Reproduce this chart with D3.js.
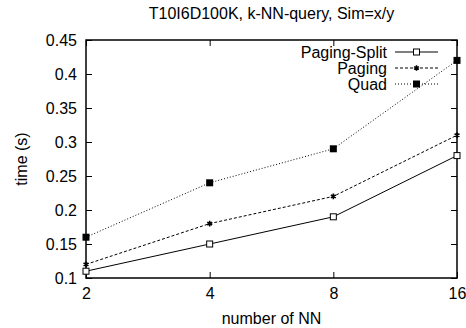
<!DOCTYPE html>
<html>
<head>
<meta charset="utf-8">
<script src="https://cdn.jsdelivr.net/npm/d3@7"></script>
<style>
  html, body { margin: 0; padding: 0; background: #fff; }
  svg { display: block; font-family: "Liberation Sans", Arial, sans-serif; }
</style>
</head>
<body>
<svg id="chart" width="466" height="328"></svg>
<script>
// Query time per number of nearest neighbours (T10I6D100K, Sim=x/y)
const nnValues = [2, 4, 8, 16];
const pagingSplit = [0.11, 0.15, 0.19, 0.28];
const paging = [0.12, 0.18, 0.22, 0.31];
const quad = [0.16, 0.24, 0.29, 0.42];
const seriesNames = ["Paging-Split", "Paging", "Quad"];
const yTicks = [0.1, 0.15, 0.2, 0.25, 0.3, 0.35, 0.4, 0.45];
const yTickLabels = ["0.1", "0.15", "0.2", "0.25", "0.3", "0.35", "0.4", "0.45"];
const xTickLabels = ["2", "4", "8", "16"];

const svg = d3.select("#chart");
const plotLeft = 86, plotRight = 457, plotTop = 40, plotBottom = 278;

const x = d3.scaleLog().base(2).domain([2, 16]).range([plotLeft, plotRight]);
const y = d3.scaleLinear().domain([0.1, 0.45]).range([plotBottom, plotTop]);

const series = [
  { name: seriesNames[0], values: pagingSplit, dash: null, marker: "openSquare" },
  { name: seriesNames[1], values: paging, dash: "3,2", marker: "star" },
  { name: seriesNames[2], values: quad, dash: "1,2", marker: "filledSquare" }
];

// axes with inward ticks, mirrored on the opposite sides
const fontSize = 16;
const yAxis = d3.axisLeft(y).tickValues(yTicks)
  .tickFormat((d, i) => yTickLabels[i]).tickSizeInner(-6).tickSizeOuter(0).tickPadding(9);
const xAxis = d3.axisBottom(x).tickValues(nnValues)
  .tickFormat((d, i) => xTickLabels[i]).tickSizeInner(-6).tickSizeOuter(0).tickPadding(10);
const yAxisR = d3.axisRight(y).tickValues(yTicks).tickFormat("").tickSizeInner(-6).tickSizeOuter(0);
const xAxisT = d3.axisTop(x).tickValues(nnValues).tickFormat("").tickSizeInner(-6).tickSizeOuter(0);

function styleAxis(g) {
  g.select(".domain").remove();
  g.selectAll("line").attr("stroke", "#000").attr("stroke-width", 1);
  g.selectAll("text").attr("fill", "#000").attr("font-size", fontSize)
    .attr("font-family", "Liberation Sans, Arial, sans-serif");
}

svg.append("g").attr("transform", `translate(${plotLeft},0)`).call(yAxis).call(styleAxis);
svg.append("g").attr("transform", `translate(0,${plotBottom})`).call(xAxis).call(styleAxis);
svg.append("g").attr("transform", `translate(${plotRight},0)`).call(yAxisR).call(styleAxis);
svg.append("g").attr("transform", `translate(0,${plotTop})`).call(xAxisT).call(styleAxis);

// plot frame
svg.append("rect")
  .attr("x", plotLeft).attr("y", plotTop)
  .attr("width", plotRight - plotLeft).attr("height", plotBottom - plotTop)
  .attr("fill", "none").attr("stroke", "#000").attr("stroke-width", 1.5);

function drawMarker(g, type, cx, cy) {
  if (type === "openSquare") {
    g.append("rect").attr("x", cx - 3).attr("y", cy - 3).attr("width", 6).attr("height", 6)
      .attr("fill", "#fff").attr("stroke", "#000").attr("stroke-width", 1);
  } else if (type === "filledSquare") {
    g.append("rect").attr("x", cx - 3.5).attr("y", cy - 3.5).attr("width", 7).attr("height", 7)
      .attr("fill", "#000");
  } else {
    g.append("path").attr("d", d3.symbol(d3.symbolAsterisk, 22)())
      .attr("transform", `translate(${cx},${cy})`)
      .attr("fill", "none").attr("stroke", "#000").attr("stroke-width", 1.6);
  }
}

const line = d3.line().x((d, i) => x(nnValues[i])).y(d => y(d));

series.forEach(s => {
  const g = svg.append("g");
  g.append("path").datum(s.values).attr("d", line)
    .attr("fill", "none").attr("stroke", "#000").attr("stroke-width", 1)
    .attr("stroke-dasharray", s.dash);
  s.values.forEach((v, i) => drawMarker(g, s.marker, x(nnValues[i]), y(v)));
});

// legend
const legend = svg.append("g");
series.forEach((s, i) => {
  const ly = 52 + i * 16;
  legend.append("text").attr("x", 387).attr("y", ly).attr("dy", "0.35em")
    .attr("text-anchor", "end").attr("font-size", fontSize).attr("fill", "#000").text(s.name);
  legend.append("line").attr("x1", 395).attr("x2", 438).attr("y1", ly).attr("y2", ly)
    .attr("stroke", "#000").attr("stroke-width", 1).attr("stroke-dasharray", s.dash);
  drawMarker(legend, s.marker, 416.5, ly);
});

// titles
svg.append("text").attr("x", (plotLeft + plotRight) / 2).attr("y", 19)
  .attr("text-anchor", "middle").attr("font-size", fontSize).attr("fill", "#000")
  .text("T10I6D100K, k-NN-query, Sim=x/y");
svg.append("text").attr("x", (plotLeft + plotRight) / 2).attr("y", 324)
  .attr("text-anchor", "middle").attr("font-size", fontSize).attr("fill", "#000")
  .text("number of NN");
svg.append("text").attr("transform", `translate(27,${(plotTop + plotBottom) / 2}) rotate(-90)`)
  .attr("text-anchor", "middle").attr("font-size", fontSize).attr("fill", "#000")
  .text("time (s)");
</script>
</body>
</html>
